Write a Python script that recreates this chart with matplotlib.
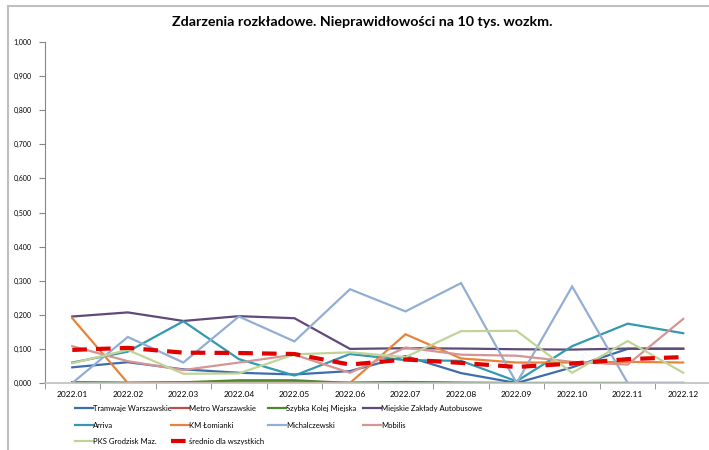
import numpy as np
import matplotlib.pyplot as plt
from matplotlib.lines import Line2D
from matplotlib.ticker import FuncFormatter

plt.rcParams['font.family'] = ['Lato', 'DejaVu Sans']

# dane
miesiace = ['2022.01', '2022.02', '2022.03', '2022.04', '2022.05', '2022.06',
            '2022.07', '2022.08', '2022.09', '2022.10', '2022.11', '2022.12']

tramwaje = [0.046, 0.061, 0.040, 0.030, 0.025, 0.035, 0.079, 0.029, 0.000, 0.046, 0.100, 0.100]
metro = [0.002, 0.001, 0.002, 0.002, 0.002, 0.001, 0.003, 0.001, 0.000, 0.000, 0.000, 0.000]
skm = [0.002, 0.000, 0.002, 0.008, 0.008, 0.000, 0.002, 0.000, 0.000, 0.000, 0.000, 0.000]
mza = [0.195, 0.207, 0.182, 0.196, 0.190, 0.100, 0.102, 0.101, 0.099, 0.098, 0.101, 0.101]
arriva = [0.060, 0.092, 0.181, 0.070, 0.022, 0.085, 0.067, 0.065, 0.005, 0.108, 0.174, 0.146]
lomianki = [0.190, 0.000, 0.000, 0.000, 0.000, 0.000, 0.143, 0.072, 0.060, 0.060, 0.062, 0.060]
michalczewski = [0.000, 0.135, 0.060, 0.195, 0.122, 0.275, 0.210, 0.293, 0.000, 0.283, 0.000, 0.000]
mobilis = [0.108, 0.064, 0.038, 0.060, 0.083, 0.030, 0.104, 0.083, 0.080, 0.062, 0.054, 0.188]
pks = [0.058, 0.097, 0.027, 0.028, 0.084, 0.090, 0.076, 0.152, 0.153, 0.030, 0.123, 0.030]
srednio = [0.097, 0.103, 0.089, 0.088, 0.085, 0.054, 0.069, 0.059, 0.047, 0.057, 0.070, 0.076]

serie = [
    ('Tramwaje Warszawskie', tramwaje, '#3E6DAE'),
    ('Metro Warszawskie', metro, '#B8504C'),
    ('Szybka Kolej Miejska', skm, '#4E8A2C'),
    ('Miejskie Zakłady Autobusowe', mza, '#5F4A7A'),
    ('Arriva', arriva, '#3399B0'),
    ('KM Łomianki', lomianki, '#E6843C'),
    ('Michalczewski', michalczewski, '#93AED4'),
    ('Mobilis', mobilis, '#D69492'),
    ('PKS Grodzisk Maz.', pks, '#C0D498'),
]

fig = plt.figure(figsize=(7.09, 4.5), dpi=100)
W, H = 709, 450

# ramka wykresu
fig.add_artist(Line2D([8 / W, 8 / W], [0, 1 - 6 / H], color='#BFBFBF', lw=1.5))
fig.add_artist(Line2D([8 / W, 1], [1 - 6 / H, 1 - 6 / H], color='#BFBFBF', lw=1.5))

ax = fig.add_axes([44.5 / W, (H - 383) / H, (711 - 44.5) / W, (383 - 42) / H])
x = np.arange(len(miesiace))

uchwyty = []
for nazwa, wartosci, kolor in serie:
    l, = ax.plot(x, wartosci, color=kolor, lw=1.6, label=nazwa, solid_joinstyle='miter')
    uchwyty.append(l)
l, = ax.plot(x, srednio, color='#E00000', lw=3, ls=(0, (3.5, 2.2)), label='średnio dla wszystkich')
uchwyty.append(l)

ax.set_xlim(-0.5, len(miesiace) - 0.5)
ax.set_ylim(0, 1.0)
ax.set_yticks(np.arange(0, 1.01, 0.1))
ax.yaxis.set_major_formatter(FuncFormatter(lambda v, p: f'{v:.3f}'.replace('.', ',')))
ax.set_xticks(x)
ax.set_xticklabels(miesiace)
ax.set_xticks(np.arange(-0.5, len(miesiace), 1), minor=True)
ax.tick_params(axis='x', which='major', length=0, labelsize=6, pad=6, colors='#000000')
ax.tick_params(axis='x', which='minor', length=4, color='#868686', direction='out')
ax.tick_params(axis='y', labelsize=5, length=4, color='#868686', pad=5)

for s in ['top', 'right']:
    ax.spines[s].set_visible(False)
ax.spines['left'].set_color('#868686')
ax.spines['bottom'].set_color('#BFBFBF')
ax.spines['bottom'].set_linewidth(1.2)

fig.text(362 / W, 1 - 22 / H, 'Zdarzenia rozkładowe. Nieprawidłowości na 10 tys. wozkm.',
         ha='center', va='center', fontsize=10.3, fontweight='bold')

# legenda: 4 kolumny w stałych odstępach, wypełniane wierszami
kolumny_x = [75, 171, 268, 363]
for i, kx in enumerate(kolumny_x):
    h = uchwyty[i::4]
    leg = fig.legend(handles=h, labels=[u.get_label() for u in h], loc='upper left',
                     bbox_to_anchor=(kx / W, 1 - 405 / H), ncol=1, fontsize=5.5,
                     frameon=False, handlelength=2.3, handletextpad=0.1,
                     labelspacing=1.25, borderaxespad=0, borderpad=0)

fig.savefig('out.png', dpi=100)
